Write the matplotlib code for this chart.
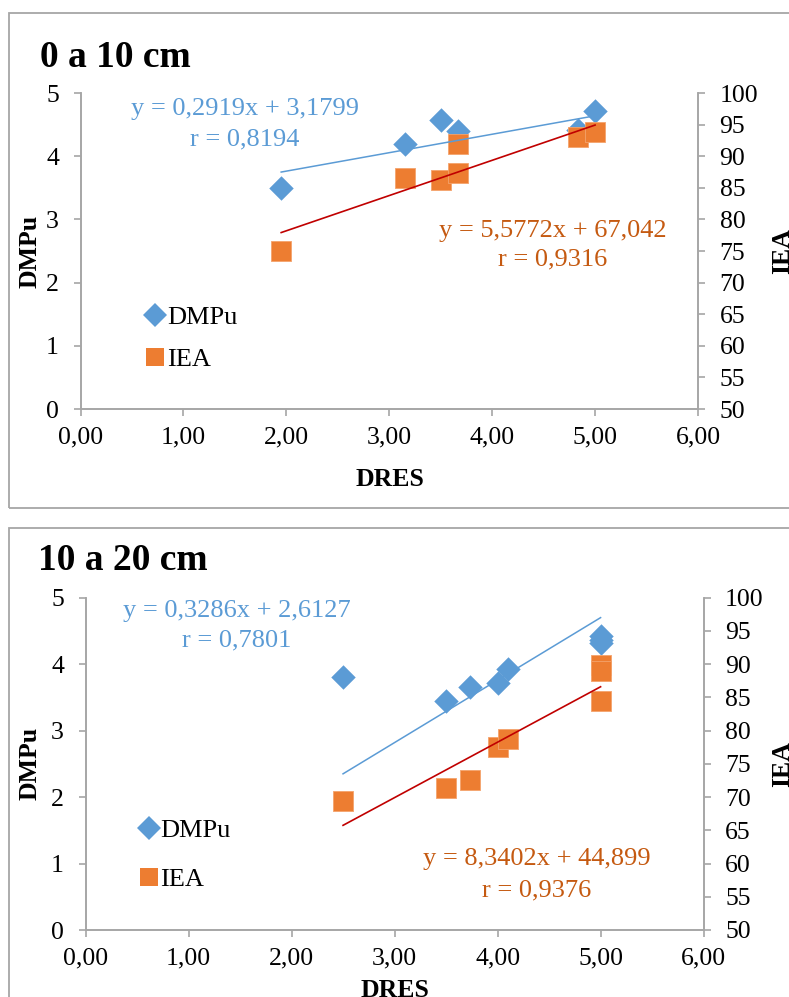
import matplotlib.pyplot as plt
from matplotlib.patches import Rectangle
from matplotlib.lines import Line2D

plt.rcParams['font.family'] = ['Liberation Serif', 'DejaVu Serif']

# ==========================================
# DATOS
# ==========================================
# 0 a 10 cm
dres_0_10_dmpu = [1.95, 3.15, 3.50, 3.67, 4.83, 5.00]
dmpu_0_10 = [3.50, 4.19, 4.58, 4.40, 4.42, 4.71]
dres_0_10_iea = [1.95, 3.15, 3.50, 3.67, 3.67, 4.83, 5.00]
iea_0_10 = [75.0, 86.6, 86.2, 92.0, 87.4, 93.0, 93.9]
coef_dmpu_0_10 = (0.2919, 3.1799, 0.8194)   # pendiente, intercepto, r
coef_iea_0_10 = (5.5772, 67.042, 0.9316)
recta_dmpu_0_10 = (0.2919, 3.1799)          # recta tal como está dibujada
recta_iea_0_10 = (5.5772, 67.042)

# 10 a 20 cm
dres_10_20_dmpu = [2.50, 3.50, 3.73, 4.00, 4.10, 5.00, 5.00, 5.00]
dmpu_10_20 = [3.81, 3.45, 3.65, 3.71, 3.92, 4.42, 4.37, 4.32]
dres_10_20_iea = [2.50, 3.50, 3.73, 4.00, 4.10, 5.00, 5.00, 5.00]
iea_10_20 = [69.4, 71.4, 72.6, 77.6, 78.7, 89.8, 88.9, 84.5]
coef_dmpu_10_20 = (0.3286, 2.6127, 0.7801)
coef_iea_10_20 = (8.3402, 44.899, 0.9376)
# ojo: la línea azul dibujada en el original no sigue la ecuación impresa
recta_dmpu_10_20 = (0.94, 0.0)
recta_iea_10_20 = (8.3402, 44.899)

xticks = [0, 1, 2, 3, 4, 5, 6]
yticks_dmpu = [0, 1, 2, 3, 4, 5]
yticks_iea = [50, 55, 60, 65, 70, 75, 80, 85, 90, 95, 100]

AZUL = '#5B9BD5'
NARANJA = '#ED7D31'
NARANJA_TXT = '#C55A11'
ROJO = '#C00000'
GRIS = '#A6A6A6'

W, H = 789, 997


def fx(px):
    return px / W


def fy(py):
    return 1 - py / H


def num(v):
    return format(v, 'g').replace('.', ',')


fig = plt.figure(figsize=(W / 100, H / 100), dpi=100)


def dibujar_panel(lay, titulo, dres_d, dmpu, dres_i, iea,
                  coef_d, coef_i, recta_d, recta_i):
    # marco gris del panel
    x0, y0, y1 = lay['marco']
    fig.add_artist(Rectangle((fx(x0), fy(y1)), 1.2, fy(y0) - fy(y1),
                             transform=fig.transFigure, fill=False,
                             edgecolor=GRIS, lw=1.3, clip_on=False))

    l, t, r, b = lay['ejes']
    ax = fig.add_axes([fx(l), fy(b), fx(r) - fx(l), fy(t) - fy(b)])
    ax2 = ax.twinx()

    ax.set_xlim(0, 6)
    ax.set_ylim(0, 5)
    ax2.set_ylim(50, 100)
    ax.set_xticks(xticks)
    ax.set_xticklabels([f'{v:.2f}'.replace('.', ',') for v in xticks])
    ax.set_yticks(yticks_dmpu)
    ax2.set_yticks(yticks_iea)

    for a in (ax, ax2):
        a.spines['top'].set_visible(False)
        for s in a.spines.values():
            s.set_color(GRIS)
            s.set_linewidth(1.2)
        a.tick_params(direction='out', length=5, width=1.2, color=GRIS,
                      labelsize=18.5, pad=10.5)
    ax.tick_params(axis='x', pad=7.5)
    ax.patch.set_visible(False)

    # puntos
    ax.scatter(dres_d, dmpu, marker='D', s=155, color=AZUL, zorder=3, lw=0)
    ax2.scatter(dres_i, iea, marker='s', s=196, color=NARANJA,
                edgecolor='#F4A36C', lw=0.6, zorder=3)

    # rectas de tendencia (encima de los cuadrados)
    xa, xb = min(dres_d), max(dres_d)
    ax2.plot([xa, xb], [recta_d[0] * xa + recta_d[1], recta_d[0] * xb + recta_d[1]],
             color=AZUL, lw=1.1, transform=ax.transData, zorder=4)
    xa, xb = min(dres_i), max(dres_i)
    ax2.plot([xa, xb], [recta_i[0] * xa + recta_i[1], recta_i[0] * xb + recta_i[1]],
             color=ROJO, lw=1.2, zorder=4)

    # ecuaciones
    cx, b1, b2 = lay['ec_d']
    fig.text(fx(cx), fy(b1), f'y = {num(coef_d[0])}x + {num(coef_d[1])}',
             ha='center', va='baseline', color=AZUL, fontsize=19)
    fig.text(fx(cx), fy(b2), f'r = {num(coef_d[2])}',
             ha='center', va='baseline', color=AZUL, fontsize=19)
    cx, b1, b2 = lay['ec_i']
    fig.text(fx(cx), fy(b1), f'y = {num(coef_i[0])}x + {num(coef_i[1])}',
             ha='center', va='baseline', color=NARANJA_TXT, fontsize=19)
    fig.text(fx(cx), fy(b2), f'r = {num(coef_i[2])}',
             ha='center', va='baseline', color=NARANJA_TXT, fontsize=19)

    # título y nombres de ejes
    tx, tb = lay['titulo']
    fig.text(fx(tx), fy(tb), titulo, fontsize=27, fontweight='bold',
             ha='left', va='baseline')
    fig.text(fx(30), fy((t + b) / 2), 'DMPu', rotation=90, fontsize=18.5,
             fontweight='bold', ha='center', va='center')
    fig.text(fx(783), fy((t + b) / 2), 'IEA', rotation=90, fontsize=18.5,
             fontweight='bold', ha='center', va='center')
    dx, dy = lay['dres']
    fig.text(fx(dx), fy(dy), 'DRES', fontsize=18.5, fontweight='bold',
             ha='center', va='center')

    # leyenda
    lx, ly, esp = lay['leyenda']
    manejadores = [Line2D([], [], marker='D', ls='', color=AZUL, ms=12, mew=0),
                   Line2D([], [], marker='s', ls='', color=NARANJA, ms=12.5, mew=0)]
    ax2.legend(manejadores, ['DMPu', 'IEA'], loc='upper left',
               bbox_to_anchor=(fx(lx), fy(ly)), bbox_transform=fig.transFigure,
               frameon=False, fontsize=19, handlelength=0.8, handletextpad=0.05,
               labelspacing=esp, borderpad=0, borderaxespad=0)


lay_sup = {'marco': (9, 13, 507.7), 'ejes': (80.5, 93, 698, 409),
           'ec_d': (245, 115, 145), 'ec_i': (553, 236.7, 265),
           'titulo': (40, 67), 'dres': (390, 479), 'leyenda': (144.5, 306, 0.7)}
lay_inf = {'marco': (9, 528, 1020), 'ejes': (85.5, 597.7, 703.6, 930),
           'ec_d': (237, 616.7, 646.7), 'ec_i': (537, 865, 896),
           'titulo': (38, 570), 'dres': (395, 990), 'leyenda': (138, 819, 0.96)}

dibujar_panel(lay_sup, '0 a 10 cm', dres_0_10_dmpu, dmpu_0_10, dres_0_10_iea, iea_0_10,
              coef_dmpu_0_10, coef_iea_0_10, recta_dmpu_0_10, recta_iea_0_10)
dibujar_panel(lay_inf, '10 a 20 cm', dres_10_20_dmpu, dmpu_10_20, dres_10_20_iea, iea_10_20,
              coef_dmpu_10_20, coef_iea_10_20, recta_dmpu_10_20, recta_iea_10_20)

fig.savefig('out.png', dpi=100)
